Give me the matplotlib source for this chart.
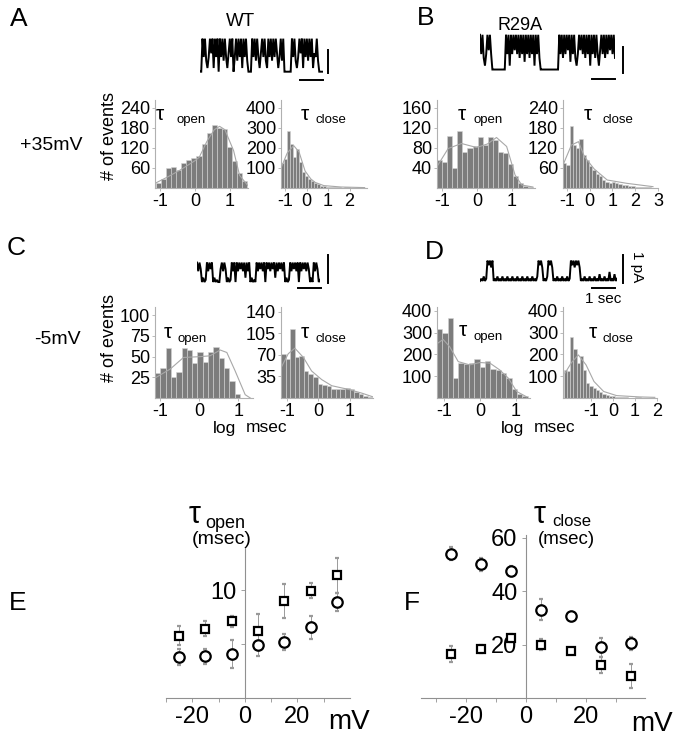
import numpy as np
import matplotlib
matplotlib.use("Agg")
import matplotlib.pyplot as plt

plt.rcParams['font.family'] = ['Liberation Sans', 'DejaVu Sans']
plt.rcParams['axes.unicode_minus'] = False

W, H = 683, 739

# single-channel records, level 0 (closed) .. 9 (open)
trace_a = ("00" + "949314959" + "1" + "949" + "0" + "94939415949" + "0" + "49394919493"
           + "000" + "949394159493" + "1" + "9493949514939" + "000000" + "949314959"
           + "1" + "949394915493" + "0000")
trace_b = ("9493149594" + "00000000000" + "9491949594939492949394919493"
           + "000000000000000" + "9493949592949314959493949194939415949394959493")
trace_c = ("9596" + "0201" + "95969" + "020100" + "69596" + "0201"
           + "959095969592959" + "02010" + "95969590969596929596959" + "0201"
           + "9596959095969596" + "020" + "9596" + "01")
trace_d = ("010201" + "97969" + "010201020102010201020102010201020102" + "9796"
           + "0102" + "9796" + "01020102010201" + "97969796" + "01020102010201"
           + "0301020104010301")

# dwell-time histograms: counts per log(msec) bin, plus fitted curves
a_open_counts = [14, 26, 60, 63, 53, 76, 83, 90, 97, 132, 165, 190, 180, 178, 122, 80, 45, 20]
a_open_start, a_open_bin = -1.11, 0.144
a_open_fit_x = [-1.14, -0.8, -0.42, 0.0, 0.12, 0.34, 0.55, 0.7, 0.85, 1.1, 1.27, 1.5]
a_open_fit_y = [14, 32, 54, 82, 92, 140, 175, 185, 175, 112, 38, 8]

a_close_counts = [125, 145, 283, 220, 155, 195, 130, 80, 60, 45, 33, 25, 18, 12, 9, 6, 5, 4,
                  3, 3, 2, 3, 4, 2, 1, 1]
a_close_start, a_close_bin = -1.19, 0.14
a_close_fit_x = [-1.17, -0.9, -0.6, -0.35, -0.07, 0.2, 0.4, 0.8, 1.6, 2.7]
a_close_fit_y = [105, 175, 212, 180, 85, 45, 28, 12, 5, 2]

b_open_counts = [57, 53, 105, 40, 115, 73, 80, 85, 102, 87, 103, 96, 73, 70, 48, 25, 10, 5, 3]
b_open_start, b_open_bin = -1.14, 0.145
b_open_fit_x = [-1.14, -0.82, -0.44, -0.01, 0.3, 0.56, 0.85, 1.09, 1.28, 1.6]
b_open_fit_y = [43, 79, 89, 81, 88, 101, 83, 26, 6, 2]

b_close_counts = [74, 70, 186, 128, 120, 148, 98, 85, 66, 55, 42, 36, 25, 18, 14, 17, 15, 11,
                  8, 10, 5, 6, 4, 3, 2, 2, 2, 1]
b_close_start, b_close_bin = -1.17, 0.143
b_close_fit_x = [-1.17, -0.8, -0.49, -0.23, 0.2, 0.77, 1.63, 2.78]
b_close_fit_y = [69, 129, 139, 94, 57, 24, 14, 4]

c_open_counts = [30, 36, 60, 25, 31, 61, 58, 42, 56, 43, 56, 62, 48, 36, 20, 5]
c_open_start, c_open_bin = -1.13, 0.136
c_open_fit_x = [-1.17, -0.74, -0.4, 0.03, 0.28, 0.54, 0.71, 0.92, 1.18, 1.31]
c_open_fit_y = [23, 35, 49, 50, 51, 58, 55, 33, 4, 0]

c_close_counts = [71, 64, 113, 66, 69, 44, 39, 34, 23, 21, 19, 15, 14, 15, 16, 14, 9, 6, 4, 2]
c_close_start, c_close_bin = -1.19, 0.145
c_close_fit_x = [-1.19, -0.96, -0.75, -0.48, -0.22, 0.1, 0.42, 0.95, 1.37, 1.72]
c_close_fit_y = [49, 72, 81, 66, 44, 30, 20, 14, 8, 2]

d_open_counts = [318, 300, 366, 94, 159, 156, 159, 177, 141, 170, 132, 129, 114, 91, 41, 20, 8]
d_open_start, d_open_bin = -1.19, 0.148
d_open_fit_x = [-1.2, -1.02, -0.84, -0.6, -0.28, 0.0, 0.28, 0.55, 0.79, 1.02, 1.3]
d_open_fit_y = [248, 269, 236, 167, 152, 163, 160, 129, 91, 30, 5]

d_close_counts = [129, 122, 278, 223, 160, 193, 129, 71, 56, 46, 38, 26, 18, 12, 11, 8, 6, 4,
                  3, 3, 2, 2, 4, 3, 2, 1, 1, 1]
d_close_start, d_close_bin = -2.25, 0.147
d_close_fit_x = [-2.19, -1.89, -1.58, -1.23, -0.87, -0.43, 0.16, 1.2, 1.9]
d_close_fit_y = [114, 163, 198, 152, 76, 30, 11, 5, 3]

# mean dwell times vs voltage
volts = [-25, -15, -5, 5, 15, 25, 35]
open_circ = [3.8, 3.86, 4.07, 4.94, 5.19, 6.54, 8.89]
open_circ_err = [0.7, 0.7, 1.3, 1.0, 0.7, 1.1, 0.8]
open_sq = [5.77, 6.42, 7.10, 6.23, 9.01, 9.94, 11.36]
open_sq_err = [0.9, 0.7, 0.5, 1.55, 1.55, 0.7, 1.6]
close_circ = [54, 50, 47.5, 33.0, 30.6, 18.9, 20.5]
close_circ_err = [2.5, 2.5, 2, 3.9, 1, 3.5, 2.5]
close_sq = [16.6, 18.5, 22.6, 19.9, 17.6, 12.3, 8.4]
close_sq_err = [3, 1.5, 1.5, 2, 1, 3, 4.5]

fig = plt.figure(figsize=(W / 100, H / 100), dpi=100)


def px_axes(l, t, r, b):
    return fig.add_axes([l / W, 1 - b / H, (r - l) / W, (b - t) / H])


def trace_panel(rect, s):
    ax = px_axes(*rect)
    lv = np.array([int(c) for c in s]) / 9.0
    ax.plot(np.arange(len(lv)), lv, color='black', lw=1.4, solid_joinstyle='miter')
    ax.set_xlim(0, len(lv) - 1)
    ax.set_ylim(-0.1, 1.08)
    ax.axis('off')


def hist_panel(rect, counts, start, binw, fx, fy, xlim, ylim, yticks, xticks):
    ax = px_axes(*rect)
    edges = start + binw * np.arange(len(counts))
    ax.bar(edges, counts, width=binw, align='edge', color='#7c7c7c',
           edgecolor='#d4d4d4', linewidth=0.4)
    ax.plot(fx, fy, color='#a8a8a8', lw=0.8)
    ax.set_xlim(xlim)
    ax.set_ylim(ylim)
    ax.set_yticks(yticks)
    ax.set_xticks(xticks)
    for sp in ['top', 'right']:
        ax.spines[sp].set_visible(False)
    for sp in ['left', 'bottom']:
        ax.spines[sp].set_color('#b0b0b0')
        ax.spines[sp].set_linewidth(0.8)
    ax.tick_params(labelsize=13, length=2, width=0.6, color='#b0b0b0', pad=1.5)
    ax.patch.set_alpha(0)
    return ax


trace_panel((200, 36, 323, 75), trace_a)
trace_panel((480, 32, 615, 73), trace_b)
trace_panel((197, 261, 320, 284), trace_c)
trace_panel((480, 259, 617, 283), trace_d)

hist_panel((155, 100, 248, 188), a_open_counts, a_open_start, a_open_bin, a_open_fit_x,
           a_open_fit_y, (-1.14, 1.51), (0, 264), [60, 120, 180, 240], [-1, 0, 1])
hist_panel((281, 100, 367, 188), a_close_counts, a_close_start, a_close_bin, a_close_fit_x,
           a_close_fit_y, (-1.19, 2.81), (0, 440), [100, 200, 300, 400], [-1, 0, 1, 2])
hist_panel((437, 100, 535, 188), b_open_counts, b_open_start, b_open_bin, b_open_fit_x,
           b_open_fit_y, (-1.14, 1.66), (0, 176), [40, 80, 120, 160], [-1, 0, 1])
hist_panel((563, 100, 658, 188), b_close_counts, b_close_start, b_close_bin, b_close_fit_x,
           b_close_fit_y, (-1.17, 2.9), (0, 264), [60, 120, 180, 240], [-1, 0, 1, 2, 3])
hist_panel((155, 307, 253, 398), c_open_counts, c_open_start, c_open_bin, c_open_fit_x,
           c_open_fit_y, (-1.13, 1.38), (0, 110), [25, 50, 75, 100], [-1, 0, 1])
hist_panel((281, 307, 373, 398), c_close_counts, c_close_start, c_close_bin, c_close_fit_x,
           c_close_fit_y, (-1.19, 1.73), (0, 148), [35, 70, 105, 140], [-1, 0, 1])
hist_panel((437, 307, 530, 398), d_open_counts, d_open_start, d_open_bin, d_open_fit_x,
           d_open_fit_y, (-1.19, 1.39), (0, 418), [100, 200, 300, 400], [-1, 0, 1])
hist_panel((563, 307, 657, 398), d_close_counts, d_close_start, d_close_bin, d_close_fit_x,
           d_close_fit_y, (-2.28, 1.9), (0, 418), [100, 200, 300, 400], [-1, 0, 1, 2])


def tau_panel(rect, circ, circ_err, sq, sq_err, xlim, ylim, yticks, ylabels):
    ax = px_axes(*rect)
    eb = dict(ecolor='#9a9a9a', elinewidth=0.7, capsize=1.5, capthick=0.7, linestyle='none',
              mfc='white', mec='black', mew=1.6)
    ax.errorbar(volts, sq, yerr=sq_err, fmt='s', ms=6, **eb)
    ax.errorbar(volts, circ, yerr=circ_err, fmt='o', ms=7.5, **eb)
    ax.set_xlim(xlim)
    ax.set_ylim(ylim)
    ax.spines['left'].set_position(('data', 0))
    for sp in ['top', 'right']:
        ax.spines[sp].set_visible(False)
    for sp in ['left', 'bottom']:
        ax.spines[sp].set_color('#909090')
        ax.spines[sp].set_linewidth(0.8)
    ax.set_xticks([-20, 0, 20])
    ax.set_xticks([-30, -10, 10, 30], minor=True)
    ax.set_yticks(yticks)
    ax.set_yticklabels(ylabels)
    ax.tick_params(which='both', labelsize=17, length=3, width=0.6, color='#909090', pad=3)
    ax.patch.set_alpha(0)
    return ax


tau_panel((166, 547, 350, 698), open_circ, open_circ_err, open_sq, open_sq_err,
          (-30, 40), (0, 14), [5, 10], ['', '10'])
tau_panel((421, 535, 645, 698), close_circ, close_circ_err, close_sq, close_sq_err,
          (-35, 39.7), (0, 61), [20, 40, 60], ['20', '40', '60'])

# overlay for panel letters, labels and scale bars (pixel coordinates)
ov = fig.add_axes([0, 0, 1, 1])
ov.set_xlim(0, W)
ov.set_ylim(H, 0)
ov.axis('off')
ov.patch.set_alpha(0)

for lab, x, y in [('A', 19, 19), ('B', 426, 18), ('C', 16, 248), ('D', 434, 252),
                  ('E', 18, 603), ('F', 412, 603)]:
    ov.text(x, y, lab, fontsize=19, ha='center', va='center')

ov.text(240, 22, 'WT', fontsize=13.5, ha='center', va='center')
ov.text(520, 25, 'R29A', fontsize=13, ha='center', va='center')
ov.text(51, 145, '+35mV', fontsize=14, ha='center', va='center')
ov.text(57, 340, '-5mV', fontsize=14, ha='center', va='center')
ov.text(109, 136, '# of events', fontsize=13, rotation=90, ha='center', va='center')
ov.text(110, 338, '# of events', fontsize=13, rotation=90, ha='center', va='center')

for x, y, word, wx in [(160, 114, 'open', 191), (305, 114, 'close', 331),
                       (462, 114, 'open', 488), (588, 114, 'close', 618),
                       (168, 333, 'open', 192), (305, 333, 'close', 331),
                       (463, 331, 'open', 488), (593, 333, 'close', 618)]:
    ov.text(x, y, 'τ', fontsize=15, ha='center', va='center')
    ov.text(wx, y + 6, word, fontsize=9.5, ha='center', va='center')

ov.text(224, 428, 'log', fontsize=12.5, ha='center', va='center')
ov.text(267, 428, 'msec', fontsize=12.5, ha='center', va='center')
ov.text(513, 428, 'log', fontsize=12.5, ha='center', va='center')
ov.text(555, 428, 'msec', fontsize=12.5, ha='center', va='center')
ov.text(637, 267, '1 pA', fontsize=11, rotation=270, ha='center', va='center')
ov.text(603, 299, '1 sec', fontsize=11, ha='center', va='center')

ov.text(195, 515, 'τ', fontsize=22, ha='center', va='center')
ov.text(225, 524, 'open', fontsize=13, ha='center', va='center')
ov.text(222, 540, '(msec)', fontsize=14, ha='center', va='center')
ov.text(540, 515, 'τ', fontsize=22, ha='center', va='center')
ov.text(572, 522, 'close', fontsize=12, ha='center', va='center')
ov.text(566, 540, '(msec)', fontsize=13.5, ha='center', va='center')
ov.text(349, 722, 'mV', fontsize=20, ha='center', va='center')
ov.text(652, 724, 'mV', fontsize=20, ha='center', va='center')

for (x0, y0, x1, y1) in [(328, 50, 328, 73), (300, 80, 323, 80),
                         (623, 47, 623, 73), (592, 79, 615, 79),
                         (328, 255, 328, 283), (298, 288, 321, 288),
                         (623, 255, 623, 283), (592, 288, 615, 288)]:
    ov.plot([x0, x1], [y0, y1], color='black', lw=1.4)

fig.savefig('out.png', dpi=100)
